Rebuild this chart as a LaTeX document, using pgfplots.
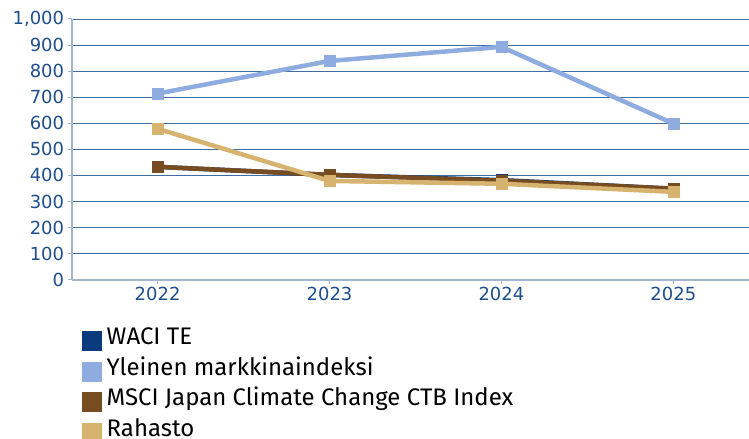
\documentclass[border=0pt]{standalone}
\usepackage{fontspec}
\setmainfont{DejaVu Sans}
\newfontfamily\legfont{Fira Sans}
\usepackage{pgfplots}
\pgfplotsset{compat=1.18}
\usetikzlibrary{calc}
\definecolor{tickc}{HTML}{1F4E8C}
\definecolor{gridc}{HTML}{3F6CA3}
\definecolor{axc}{HTML}{A3B5CF}
\definecolor{waci}{HTML}{0B3B7D}
\definecolor{yle}{HTML}{8EACE0}
\definecolor{msci}{HTML}{774C20}
\definecolor{rah}{HTML}{D6B36E}
\begin{document}
\begin{tikzpicture}
\begin{axis}[
  scale only axis, width=678pt, height=261pt,
  xmin=-0.5, xmax=3.44, ymin=0, ymax=1000,
  xtick={0,1,2,3}, xticklabels={2022,2023,2024,2025},
  ytick={0,100,...,1000},
  /pgf/number format/assume math mode=true,
  yticklabel style={/pgf/number format/1000 sep={,}},
  tick label style={font=\fontsize{18}{20}\selectfont, text=tickc},
  ymajorgrids, grid style={gridc, line width=0.9pt},
  axis lines*=left,
  axis line style={axc, line width=2pt},
  tick align=outside, major tick length=4pt,
  tick style={axc, line width=1pt},
  legend style={at={(0,0)}, anchor=north west, xshift=10pt, yshift=-48pt,
    draw=none, fill=none, inner sep=0pt, outer sep=0pt,
    font=\legfont\fontsize{24}{27}\selectfont,
    cells={anchor=base west}, row sep=7pt,
    nodes={inner sep=0pt, outer sep=0pt, text height=17pt, text depth=3pt},
    /tikz/every odd column/.append style={column sep=5pt}},
  legend image code/.code={\fill[#1] (0pt,-4.3pt) rectangle (15.6pt,11.3pt);},
]
\addplot[waci, line width=4.5pt, mark=square*, mark size=5.5pt, mark options={line width=0.5pt}] coordinates {(0,433)(1,402)(2,382)(3,349)};
\addlegendentry{WACI TE}
\addplot[yle, line width=4.5pt, mark=square*, mark size=5.5pt, mark options={line width=0.5pt}] coordinates {(0,714)(1,839)(2,893)(3,599)};
\addlegendentry{Yleinen markkinaindeksi}
\addplot[msci, line width=4.5pt, mark=square*, mark size=5.5pt, mark options={line width=0.5pt}] coordinates {(0,433)(1,402)(2,380)(3,349)};
\addlegendentry{MSCI Japan Climate Change CTB Index}
\addplot[rah, line width=4.5pt, mark=square*, mark size=5.5pt, mark options={line width=0.5pt}] coordinates {(0,579)(1,379)(2,368)(3,337)};
\addlegendentry{Rahasto}
\coordinate (bl) at (rel axis cs:0,0);
\coordinate (tr) at (rel axis cs:1,1);
\end{axis}
\pgfresetboundingbox
\path ($(bl)+(-71.7pt,-159pt)$) rectangle ($(tr)+(0pt,19pt)$);
\end{tikzpicture}
\end{document}
